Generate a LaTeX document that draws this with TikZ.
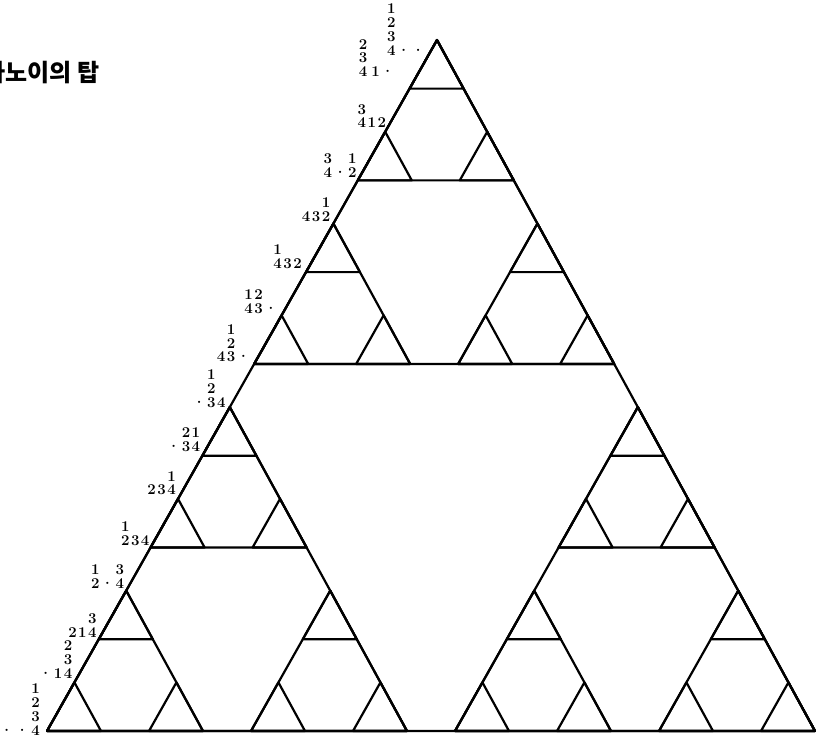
\documentclass[tikz,border=0pt]{standalone}
\usepackage{fontspec}
\newfontfamily\krfont{Noto Sans CJK KR}
\newcommand{\pg}[1]{\begin{tabular}[b]{@{}c@{}}#1\end{tabular}}
\newcommand{\md}{\textperiodcentered}
\newcommand{\gp}{\kern1.5pt}
\tikzset{
  edge/.style={line width=2.2pt, line join=round, line cap=round},
  lab/.style={inner sep=0pt, font=\fontsize{15}{13}\selectfont\bfseries, anchor=base east},
  title/.style={inner sep=0pt, anchor=west, font=\krfont\fontsize{24}{24}\selectfont\bfseries}
}
\begin{document}
\begin{tikzpicture}[x=1pt,y=1pt]
\useasboundingbox (0,0) rectangle (819,742);
\fill[white] (0,0) rectangle (819,742);
\coordinate (L) at (47,11);
\begin{scope}[shift={(L)}, x={(1pt,0pt)}, y={(0.5078pt,0.8997pt)}]
\foreach \i/\ox/\oy in {1/0/0,2/408/0,3/0/408} {
 \foreach \j/\px/\py in {1/0/0,2/204/0,3/0/204} {
  \foreach \k/\qx/\qy in {1/0/0,2/102/0,3/0/102} {
    \pgfmathsetmacro\X{\ox+\px+\qx}
    \pgfmathsetmacro\Y{\oy+\py+\qy}
    \coordinate (v\i\j\k l) at (\X,\Y);
    \coordinate (v\i\j\k r) at (\X+54,\Y);
    \coordinate (v\i\j\k a) at (\X,\Y+54);
  }}}
\end{scope}
% small triangles and block outlines
\foreach \i in {1,2,3} {
 \foreach \j in {1,2,3} {
  \foreach \k in {1,2,3} {
   \draw[edge] (v\i\j\k l) -- (v\i\j\k r) -- (v\i\j\k a) -- cycle;
  }
  \draw[edge] (v\i\j1l) -- (v\i\j2r) -- (v\i\j3a) -- cycle;
 }
 \draw[edge] (v\i11l) -- (v\i22r) -- (v\i33a) -- cycle;
}
\draw[edge] (v111l) -- (v222r) -- (v333a) -- cycle;
% title
\node[title] (t) at (-17,669) {하노이의 탑};
% state labels along the left edge
\node[lab] (s0) at ([shift={(-12pt,-15pt)}]v333a) {\pg{1\\2\\3\\4}\gp\md\gp\md};
\node[lab] (s1) at ([shift={(-15pt,12pt)}]v333l) {\pg{2\\3\\4}\kern4pt\pg{1}\gp\md};
\node[lab] (s2) at ([shift={(1pt,4pt)}]v331a) {\pg{3\\4}\gp1\gp2};
\node[lab] (s3) at ([shift={(-1pt,3pt)}]v331l) {\pg{3\\4}\gp\md\gp\pg{1\\2}};
\node[lab] (s4) at ([shift={(-3pt,2pt)}]v313a) {4\gp3\gp\pg{1\\2}};
\node[lab] (s5) at ([shift={(-4pt,4pt)}]v313l) {\pg{1\\4}\gp3\gp2};
\node[lab] (s6) at ([shift={(-4pt,2pt)}]v311a) {\pg{1\\4}\gp\pg{2\\3}\gp\md};
\node[lab] (s7) at ([shift={(-4pt,2pt)}]v311l) {4\gp\pg{1\\2\\3}\gp\md};
\node[lab] (s8) at ([shift={(-4pt,0pt)}]v133a) {\md\gp\pg{1\\2\\3}\gp4};
\node[lab] (s9) at ([shift={(-2pt,4pt)}]v133l) {\md\gp\pg{2\\3}\gp\pg{1\\4}};
\node[lab] (s10) at ([shift={(-2pt,4pt)}]v131a) {2\gp3\gp\pg{1\\4}};
\node[lab] (s11) at ([shift={(-1pt,2pt)}]v131l) {\pg{1\\2}\gp3\gp4};
\node[lab] (s12) at ([shift={(-2pt,2pt)}]v113a) {\pg{1\\2}\gp\md\gp\pg{3\\4}};
\node[lab] (s13) at ([shift={(-2pt,2pt)}]v113l) {2\gp1\gp\pg{3\\4}};
\node[lab] (s14) at ([shift={(-2pt,4pt)}]v111a) {\md\gp1\gp\pg{2\\3\\4}};
\node[lab] (s15) at ([shift={(-7pt,-4pt)}]v111l) {\md\kern2.5pt\md\kern2.5pt\pg{1\\2\\3\\4}};
\end{tikzpicture}
\end{document}
